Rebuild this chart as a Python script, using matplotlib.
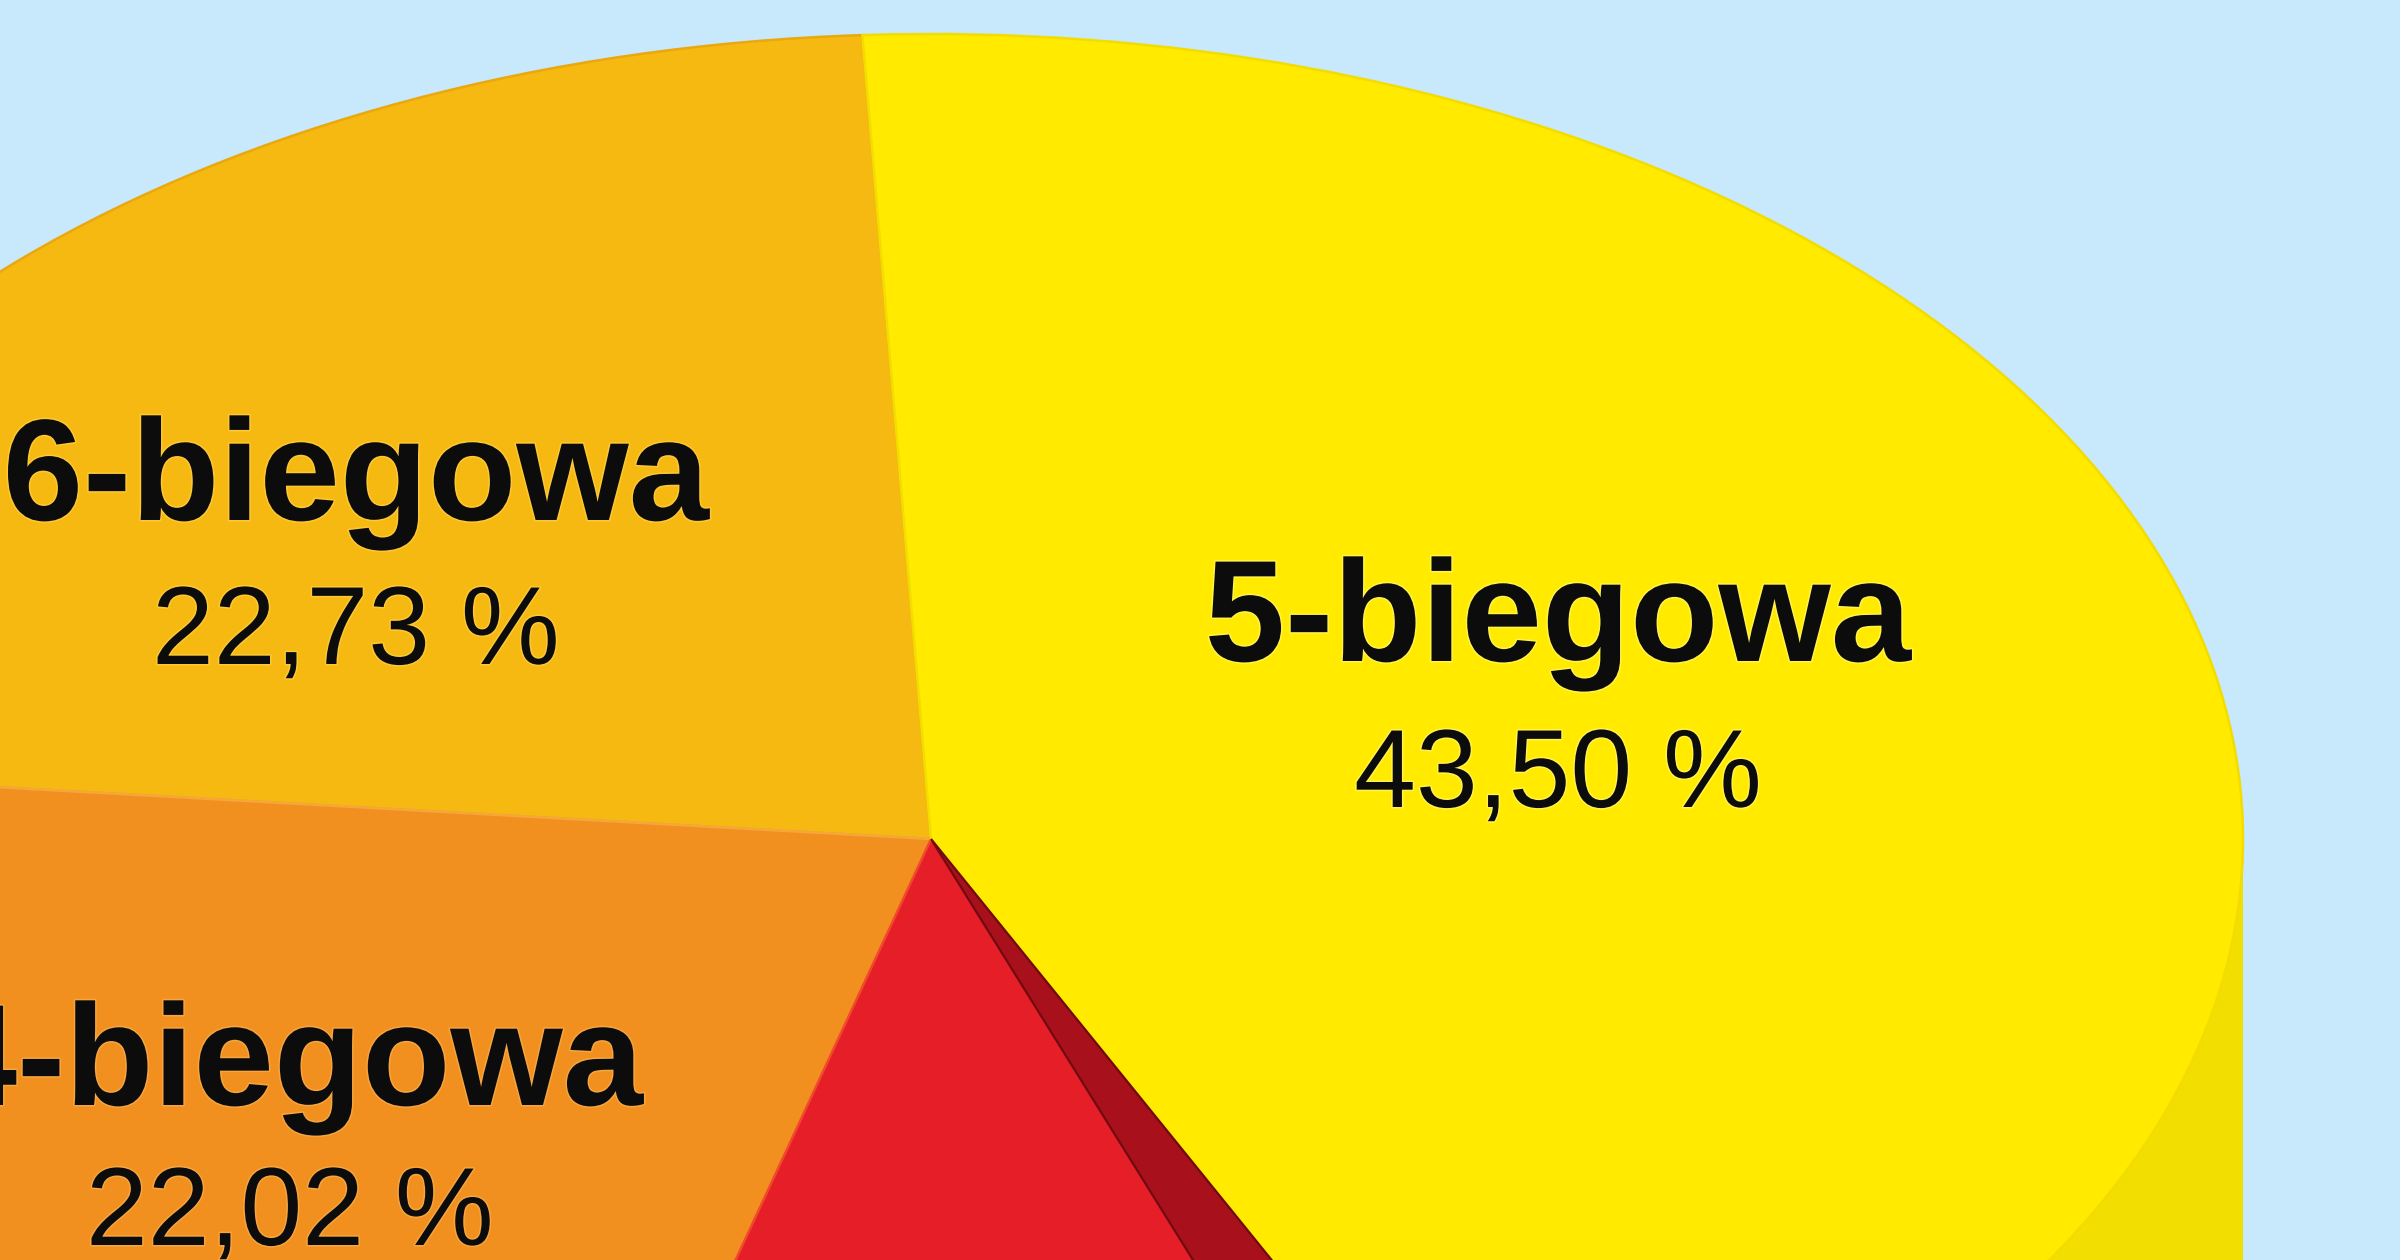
import numpy as np
import matplotlib
matplotlib.use("Agg")
import matplotlib.pyplot as plt
from matplotlib.patches import Polygon, Wedge
import matplotlib.patheffects as pe
from matplotlib.colors import to_rgb


# --- DATA ---
gearboxes = ["6-biegowa", "4-biegowa", "", "5-biegowa"]   # red slice label is cut off
shares = [22.73, 22.02, 11.75, 43.50]

# --- LAYOUT / STYLE ---
W, H = 2400, 1260
CX, CY = 931, 839          # pie centre in pixels
RX, RY = 1312, 805         # ellipse half axes in pixels
DEPTH = 0.6                # cylinder height, in units of RY
START = 93
BG = "#c7e9fb"
top_colors = ["#f6b912", "#f1901f", "#e61e28", "#ffea00"]
edge_colors = ["#eaa80c", "#f6a63a", "#f04a2a", "#f3dc00"]
halo_colors = ["#fcc935", "#f6a540", "#ff6040", "#fff34a"]
cut_face_deg = 5.5         # visible cut face of the red slice
# name centre x, name baseline y, percent baseline y (pixels)
label_pos = {"6-biegowa": (356, 520, 664),
             "4-biegowa": (290, 1105, 1245),
             "5-biegowa": (1558, 661, 807)}


def px(x, y):
    """Pixel position -> data coords of the unit pie."""
    return (x - CX) / RX, (CY - y) / RY


def shade(c, f):
    r, g, b = to_rgb(c)
    return (r * f, g * f, b * f)


fig = plt.figure(figsize=(12, 6.3), dpi=200, facecolor=BG)
ax = fig.add_axes([0, 0, 1, 1])

wedges, _ = ax.pie(shares, colors=top_colors, startangle=START, counterclock=True,
                   radius=1, center=(0, 0),
                   wedgeprops=dict(linewidth=0.9, zorder=3))
for w, ec in zip(wedges, edge_colors):
    w.set_edgecolor(ec)

# side wall of the cylinder (lower half only)
for w, col in zip(wedges, top_colors):
    t = np.radians(np.linspace(w.theta1, w.theta2, 400))
    t = t[np.sin(t) < 0]
    if len(t) < 2:
        continue
    top = np.column_stack([np.cos(t), np.sin(t)])
    bot = np.column_stack([np.cos(t[::-1]), np.sin(t[::-1]) - DEPTH])
    ax.add_patch(Polygon(np.vstack([top, bot]), closed=True,
                         facecolor=shade(col, 0.95), edgecolor="none", zorder=2))

# cut face of the red slice
red = wedges[2]
ax.add_patch(Wedge((0, 0), 1, red.theta2 - cut_face_deg, red.theta2,
                   facecolor="#a8111c", edgecolor="#700a10", linewidth=0.8, zorder=4))

# labels
for name, val, halo in zip(gearboxes, shares, halo_colors):
    if not name:
        continue
    x, yb, yp = label_pos[name]
    pct = f"{val:.2f}".replace(".", ",") + " %"
    effects = [pe.withStroke(linewidth=1.1, foreground=halo)]
    ax.text(*px(x, yb), name, ha="center", va="baseline", fontsize=52,
            fontweight="bold", family=["Liberation Sans", "DejaVu Sans"],
            color="#0c0c0c", zorder=6, path_effects=effects)
    ax.text(*px(x, yp), pct, ha="center", va="baseline", fontsize=40,
            family=["Liberation Sans", "DejaVu Sans"],
            color="#0c0c0c", zorder=6, path_effects=effects)

ax.set_aspect("auto")
x0, y0 = px(0, H)
x1, y1 = px(W, 0)
ax.set_xlim(x0, x1)
ax.set_ylim(y0, y1)
ax.axis("off")

fig.savefig("out.png", dpi=200, facecolor=BG)
